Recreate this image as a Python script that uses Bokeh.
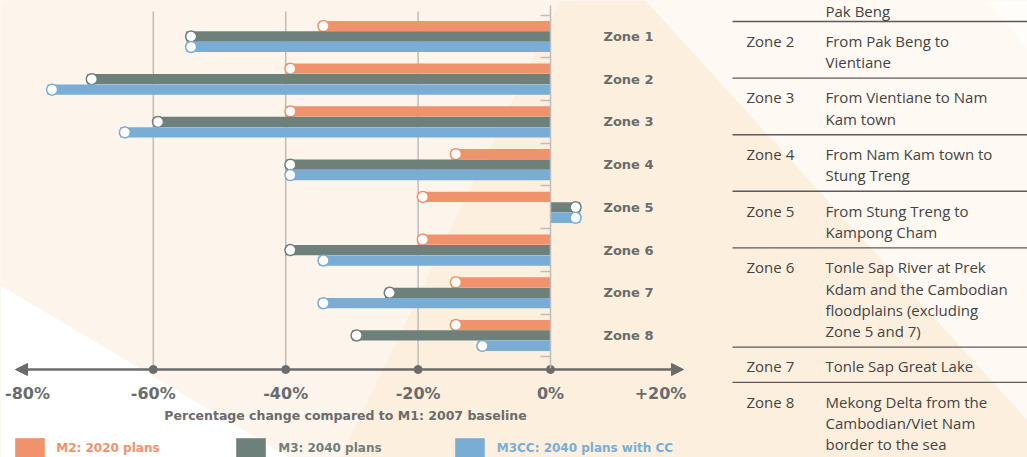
import numpy as np
from bokeh.plotting import figure
from bokeh.models import (Range1d, LinearAxis, FixedTicker, Arrow, NormalHead,
                          Legend, LegendItem, ColumnDataSource)
from bokeh.core.properties import value
from bokeh.embed import file_html
from bokeh.resources import INLINE

# ---------------- data ----------------
zones = ["Zone 1", "Zone 2", "Zone 3", "Zone 4", "Zone 5", "Zone 6", "Zone 7", "Zone 8"]
m2_2020 = [-35, -40, -40, -15, -20, -20, -15, -15]
m3_2040 = [-55, -70, -60, -40, 4.5, -40, -25, -30]
m3cc_2040 = [-55, -76, -65, -40, 4.5, -35, -35, -11]
series_names = ["M2: 2020 plans", "M3: 2040 plans", "M3CC: 2040 plans with CC"]
tick_values = [-80, -60, -40, -20, 0, 20]
tick_labels = ["-80%", "-60%", "-40%", "-20%", "0%", "+20%"]
grid_values = [-60, -40, -20]
x_title = "Percentage change compared to M1: 2007 baseline"

table_zone1_tail = "Pak Beng"
table_zones = ["Zone 2", "Zone 3", "Zone 4", "Zone 5", "Zone 6", "Zone 7", "Zone 8"]
table_desc = [
    ["From Pak Beng to", "Vientiane"],
    ["From Vientiane to Nam", "Kam town"],
    ["From Nam Kam town to", "Stung Treng"],
    ["From Stung Treng to", "Kampong Cham"],
    ["Tonle Sap River at Prek", "Kdam and the Cambodian", "floodplains (excluding", "Zone 5 and 7)"],
    ["Tonle Sap Great Lake"],
    ["Mekong Delta from the", "Cambodian/Viet Nam", "border to the sea"],
]

# ---------------- style / layout ----------------
ORANGE = "#F0926C"
GREY = "#6E807A"
BLUE = "#79ADD5"
COLORS = [ORANGE, GREY, BLUE]
TEXT = "#6B6B6B"
TABLE_TEXT = "#444444"
GRID = "#BDBDBD"
BASE = "#FCEFDE"
BOLD_FONT = "DejaVu Sans"
REG_FONT = "Open Sans"

W, H = 1027, 457
PX_PER_PCT = 6.62
ZERO_PX = 550.0
Z1_PX = 36.0
PX_PER_ZONE = 42.71


def px2x(X):
    return (X - ZERO_PX) / PX_PER_PCT


def px2y(Y):
    return 1 + (Y - Z1_PX) / PX_PER_ZONE


p = figure(width=W, height=H,
           x_range=Range1d(px2x(0), px2x(W)),
           y_range=Range1d(px2y(H), px2y(0)),
           output_backend="svg", toolbar_location=None, min_border=0,
           x_axis_location=None, y_axis_location=None,
           background_fill_color=BASE, border_fill_color=BASE,
           outline_line_color=None)
p.xgrid.visible = False
p.ygrid.visible = False

# background decoration
def bg(points, color):
    p.patch([px2x(a) for a, b in points], [px2y(b) for a, b in points],
            fill_color=color, line_color=None)

bg([(0, 0), (560, 0), (340, 457), (0, 457)], "#FDF5EB")
bg([(645, 0), (1027, 0), (1027, 420)], "#FEF9F2")
bg([(985, 0), (1027, 0), (1027, 48)], "#FFFDFA")
bg([(0, 285), (289, 457), (0, 457)], "#FFFFFF")

# grid lines
p.segment(x0=grid_values, x1=grid_values,
          y0=[px2y(11)] * len(grid_values), y1=[px2y(369)] * len(grid_values),
          line_color=GRID, line_width=1.5)

# bars
ypos = np.arange(1, len(zones) + 1, dtype=float)
offsets = [-0.245, 0.0, 0.245]
CAP = 4.7 / PX_PER_PCT
renderers = []
for vals, color, off in zip([m2_2020, m3_2040, m3cc_2040], COLORS, offsets):
    vals = np.array(vals, dtype=float)
    src = ColumnDataSource(dict(y=ypos + off, left=vals, right=np.zeros_like(vals),
                                cx=vals - np.sign(vals) * CAP))
    r = p.hbar(y="y", left="left", right="right", height=0.24, source=src,
               fill_color=color, line_color=None)
    p.scatter(x="cx", y="y", source=src, size=11, fill_color="white",
              line_color=color, line_width=1.5)
    renderers.append(r)

# zone labels
p.text(x=[px2x(603)] * len(zones), y=ypos, text=zones,
       text_font=value(BOLD_FONT), text_font_style="bold", text_font_size="13px",
       text_color=TEXT, text_baseline="middle", text_align="left")

# y axis at 0 (vertical zero line with separator ticks)
sep_ticks = [i + 0.5 for i in range(len(zones) + 1)]
yaxis = LinearAxis(fixed_location=0, ticker=FixedTicker(ticks=sep_ticks),
                   major_label_overrides={t: "" for t in sep_ticks},
                   axis_line_color=GRID, axis_line_width=1.5,
                   major_tick_line_color=GRID, major_tick_line_width=1.5,
                   major_tick_out=10, major_tick_in=0, minor_tick_line_color=None,
                   bounds=(px2y(5), px2y(369)))
p.add_layout(yaxis, "left")

# x axis
y_axis_line = px2y(369)
label_pos = [round(px2x(27), 2)] + tick_values[1:-1] + [round(px2x(660), 2)]
xaxis = LinearAxis(fixed_location=y_axis_line, ticker=FixedTicker(ticks=label_pos),
                   major_label_overrides={pos: lab for pos, lab in zip(label_pos, tick_labels)},
                   axis_line_color=None, major_tick_line_color=None, minor_tick_line_color=None,
                   major_tick_out=0, major_tick_in=0, major_label_standoff=14,
                   major_label_text_font=BOLD_FONT, major_label_text_font_style="bold",
                   major_label_text_font_size="16px", major_label_text_color=TEXT,
                   axis_label=x_title, axis_label_standoff=2,
                   axis_label_text_font=BOLD_FONT, axis_label_text_font_style="bold",
                   axis_label_text_font_size="12.5px", axis_label_text_color=TEXT,
                   bounds=(-81, 19))
p.add_layout(xaxis, "below")

arrow = Arrow(start=NormalHead(size=12, fill_color=TEXT, line_color=TEXT),
              end=NormalHead(size=12, fill_color=TEXT, line_color=TEXT),
              x_start=px2x(15), x_end=px2x(683), y_start=y_axis_line, y_end=y_axis_line,
              line_color=TEXT, line_width=2.5)
p.add_layout(arrow)
p.scatter(x=tick_values[1:-1], y=[y_axis_line] * 4, size=8, fill_color=TEXT, line_color=TEXT)

# legends (one per series so each label keeps its colour)
legend_boxes = [(11.25, 8), (232.25, 9), (450.75, 9)]
for (bx, standoff), name, r, color in zip(legend_boxes, series_names, renderers, COLORS):
    lg = Legend(items=[LegendItem(label=name, renderers=[r])],
                location=(bx, H - 461.75), orientation="horizontal",
                glyph_width=37, glyph_height=27, label_standoff=standoff,
                label_text_color=color, label_text_font=BOLD_FONT,
                label_text_font_style="bold", label_text_font_size="12px",
                border_line_color=None, background_fill_alpha=0,
                padding=0, margin=0, spacing=0)
    p.add_layout(lg)

# ---------------- table ----------------
LINE_H = 21.3
line_ys = [21.0]
for desc in table_desc:
    line_ys.append(line_ys[-1] + 35.3 + (len(desc) - 1) * LINE_H)
line_ys = line_ys[:-1]

p.segment(x0=[px2x(732)] * len(line_ys), x1=[px2x(W)] * len(line_ys),
          y0=[px2y(v) for v in line_ys], y1=[px2y(v) for v in line_ys],
          line_color="#5A5A5A", line_width=1.4)

tx, ty, tt = [], [], []
zx, zy = [], []
tx.append(px2x(825))
ty.append(px2y(10.5))
tt.append(table_zone1_tail)
for top, zname, desc in zip(line_ys, table_zones, table_desc):
    zx.append(px2x(746))
    zy.append(px2y(top + 19.3))
    for k, line in enumerate(desc):
        tx.append(px2x(825))
        ty.append(px2y(top + 19.3 + k * LINE_H))
        tt.append(line)

p.text(x=zx, y=zy, text=table_zones, text_font=value(REG_FONT), text_font_size="15px",
       text_color=TABLE_TEXT, text_baseline="middle", text_align="left")
p.text(x=tx, y=ty, text=tt, text_font=value(REG_FONT), text_font_size="15px",
       text_color=TABLE_TEXT, text_baseline="middle", text_align="left")

open("out.html", "w").write(file_html(p, INLINE))
